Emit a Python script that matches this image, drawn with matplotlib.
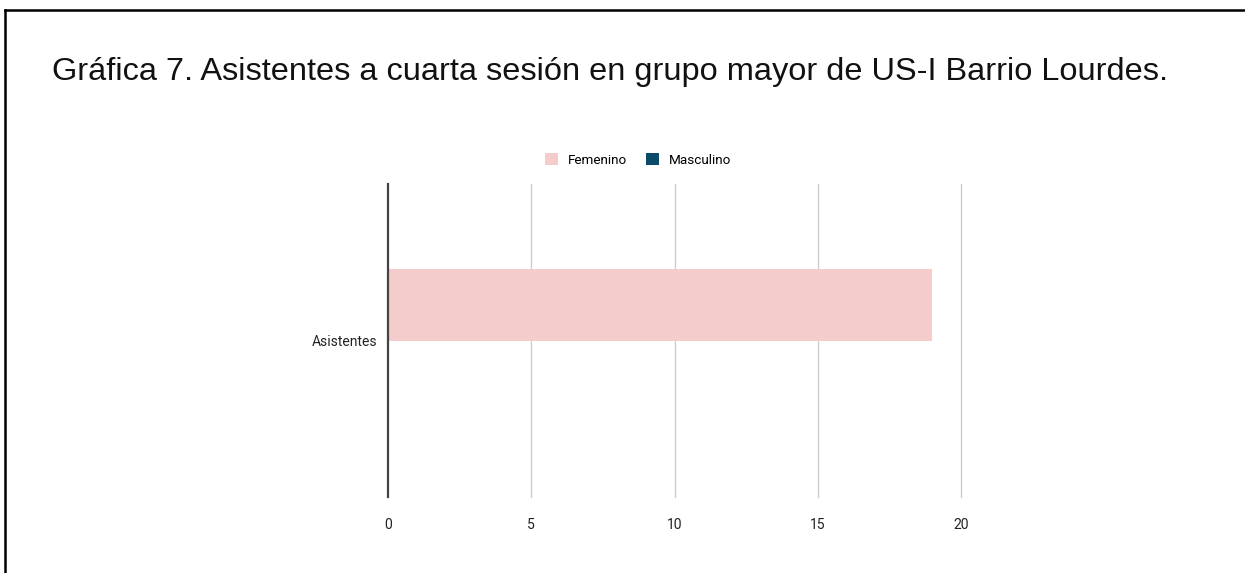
import matplotlib.pyplot as plt
from matplotlib.patches import Patch
from matplotlib.lines import Line2D

# Datos
categorias = ["Asistentes"]
femenino = [19]
masculino = [0]
series = ["Femenino", "Masculino"]
colores = ["#f4cccc", "#0b4a68"]
ticks_x = [0, 5, 10, 15, 20]

W, H = 1245, 573
fig = plt.figure(figsize=(W / 100, H / 100), dpi=100)
fig.patch.set_facecolor("white")

# Marco del recuadro (arriba e izquierda)
fig.add_artist(Line2D([5.5 / W, 1], [1 - 9.5 / H, 1 - 9.5 / H], color="black", lw=1.8))
fig.add_artist(Line2D([5.5 / W, 5.5 / W], [0, 1 - 9.5 / H], color="black", lw=1.8))

fig.text(52 / W, 1 - 72 / H, "Gráfica 7. Asistentes a cuarta sesión en grupo mayor de US-I Barrio Lourdes.",
         fontsize=23.4, family="Liberation Sans", va="center", ha="left", color="#111111")

ax = fig.add_axes([388 / W, 1 - 497 / H, (961 - 388) / W, (497 - 184) / H])

alto = 0.23
y = range(len(categorias))
ax.barh([v + alto / 2 for v in y], femenino, height=alto, color=colores[0], zorder=2)
ax.barh([v - alto / 2 for v in y], masculino, height=alto, color=colores[1], zorder=2)

ax.set_xlim(0, 20)
ax.set_ylim(-0.5, 0.5)
ax.set_xticks(ticks_x)
ax.set_xticklabels([str(t) for t in ticks_x], fontsize=10, family="Roboto", color="#222222")
ax.set_yticks(list(y))
ax.set_yticklabels(categorias, fontsize=10, family="Roboto", color="#222222")
ax.tick_params(length=0, pad=15, axis="x")
ax.tick_params(length=0, pad=8, axis="y")

for t in ticks_x[1:]:
    ax.axvline(t, color="#cccccc", lw=1, zorder=1, clip_on=False)
ax.axvline(0, color="#444444", lw=1.6, zorder=3, clip_on=False)
for s in ax.spines.values():
    s.set_visible(False)

manejadores = [Patch(facecolor=c, edgecolor="none") for c in colores]
fig.legend(manejadores, series, loc="center", bbox_to_anchor=(638 / W, 1 - 160 / H), ncol=2,
           frameon=False, handlelength=1.0, handleheight=1.0, handletextpad=0.7, columnspacing=1.4,
           prop={"family": "Roboto", "size": 9.7})

fig.savefig("out.png", dpi=100, facecolor="white")
